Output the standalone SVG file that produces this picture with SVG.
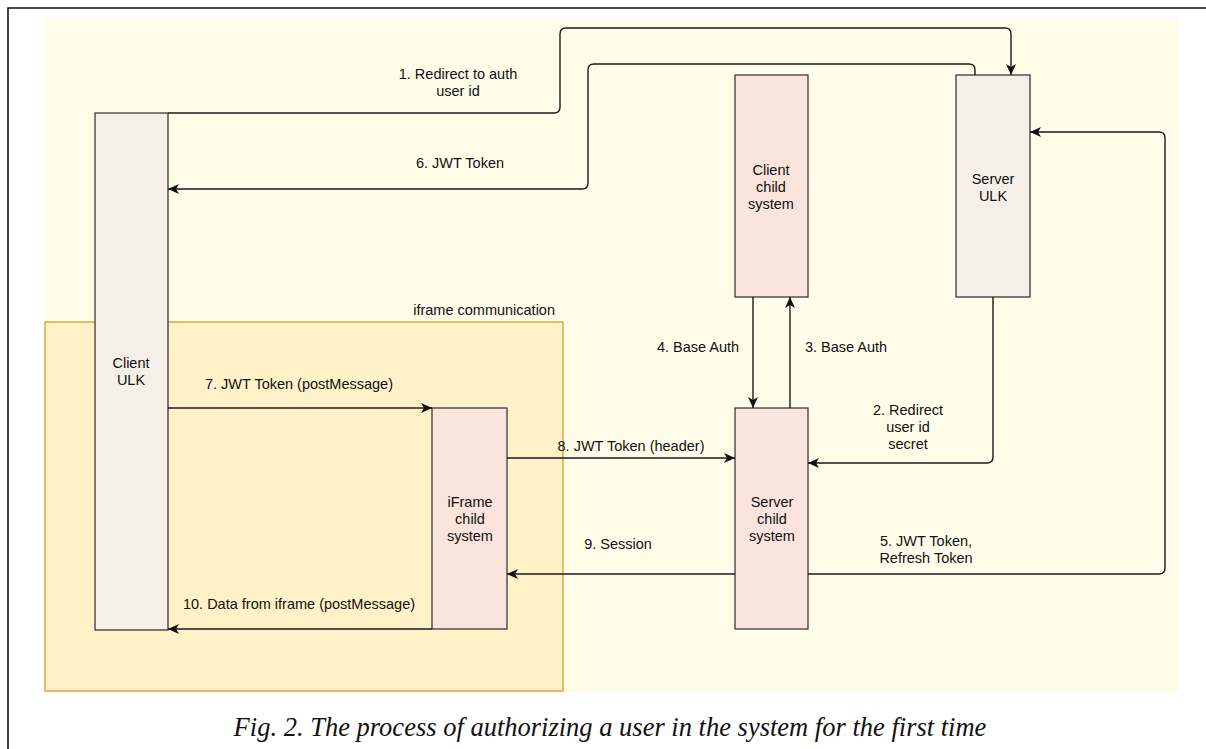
<svg xmlns="http://www.w3.org/2000/svg" width="1206" height="749" viewBox="0 0 1206 749">
<style>
.node{stroke:#3a3a3a;stroke-width:1.3}
.ulk{fill:#f6efe7}
.child{fill:#fae4db}
.lbl{font-family:"Liberation Sans",Arial,sans-serif;font-size:14.5px;fill:#111;text-anchor:middle}
.edge{fill:none;stroke:#1a1a1a;stroke-width:1.4}
.cap{font-family:"Liberation Serif","Times New Roman",serif;font-style:italic;font-size:26.5px;fill:#111;text-anchor:middle}
</style>
<defs>
<marker id="arr" markerUnits="userSpaceOnUse" markerWidth="12" markerHeight="10" viewBox="0 0 12 10" refX="11" refY="5" orient="auto">
<path d="M0,0 L11,5 L0,10 L3,5 Z" fill="#111"/>
</marker>
</defs>
<rect x="0" y="0" width="1206" height="749" fill="#ffffff"/>
<path d="M8,749 V8 H1206" fill="none" stroke="#111" stroke-width="1.6"/>
<rect x="45" y="19" width="1133" height="673" fill="#fffde9"/>
<g id="iframe-communication">
<rect x="45" y="322" width="518" height="369" fill="#fff2c8" stroke="#d99a2b" stroke-width="1.3"/>
<text class="lbl" x="555" y="315" style="text-anchor:end">iframe communication</text>
</g>
<g id="client-ulk">
<rect class="node ulk" x="95" y="113" width="73" height="517"/>
<text class="lbl" x="131" y="368">Client</text>
<text class="lbl" x="131" y="385">ULK</text>
</g>
<g id="iframe-child">
<rect class="node child" x="432" y="408" width="75" height="221"/>
<text class="lbl" x="470" y="507">iFrame</text>
<text class="lbl" x="470" y="524">child</text>
<text class="lbl" x="470" y="541">system</text>
</g>
<g id="server-child">
<rect class="node child" x="735" y="408" width="73" height="221"/>
<text class="lbl" x="772" y="507">Server</text>
<text class="lbl" x="772" y="524">child</text>
<text class="lbl" x="772" y="541">system</text>
</g>
<g id="client-child">
<rect class="node child" x="735" y="75" width="73" height="222"/>
<text class="lbl" x="771" y="175">Client</text>
<text class="lbl" x="771" y="192">child</text>
<text class="lbl" x="771" y="209">system</text>
</g>
<g id="server-ulk">
<rect class="node ulk" x="956" y="75" width="74" height="222"/>
<text class="lbl" x="993" y="184">Server</text>
<text class="lbl" x="993" y="201">ULK</text>
</g>
<g id="connectors">
<path class="edge" marker-end="url(#arr)" d="M168,113 H554 Q560,113 560,107 V34 Q560,28 566,28 H1005 Q1011,28 1011,34 V75"/>
<path class="edge" marker-end="url(#arr)" d="M975,75 V70 Q975,64 969,64 H594 Q588,64 588,70 V183 Q588,189 582,189 H168"/>
<path class="edge" marker-end="url(#arr)" d="M993,297 V457 Q993,463 987,463 H808"/>
<path class="edge" marker-end="url(#arr)" d="M808,574 H1159 Q1165,574 1165,568 V138 Q1165,132 1159,132 H1030"/>
<path class="edge" marker-end="url(#arr)" d="M790,408 V297"/>
<path class="edge" marker-end="url(#arr)" d="M753,297 V408"/>
<path class="edge" marker-end="url(#arr)" d="M168,408 H432"/>
<path class="edge" marker-end="url(#arr)" d="M507,458 H735"/>
<path class="edge" marker-end="url(#arr)" d="M735,574 H507"/>
<path class="edge" marker-end="url(#arr)" d="M432,629 H168"/>
<text class="lbl" x="458" y="79">1. Redirect to auth</text>
<text class="lbl" x="458" y="96">user id</text>
<text class="lbl" x="460" y="168">6. JWT Token</text>
<text class="lbl" x="299" y="389">7. JWT Token (postMessage)</text>
<text class="lbl" x="299" y="609">10. Data from iframe (postMessage)</text>
<text class="lbl" x="631" y="451">8. JWT Token (header)</text>
<text class="lbl" x="618" y="549">9. Session</text>
<text class="lbl" x="698" y="352">4. Base Auth</text>
<text class="lbl" x="846" y="352">3. Base Auth</text>
<text class="lbl" x="908" y="415">2. Redirect</text>
<text class="lbl" x="908" y="432">user id</text>
<text class="lbl" x="908" y="449">secret</text>
<text class="lbl" x="926" y="546">5. JWT Token,</text>
<text class="lbl" x="926" y="563">Refresh Token</text>
</g>
<text class="cap" x="610" y="736">Fig. 2. The process of authorizing a user in the system for the first time</text>
</svg>
